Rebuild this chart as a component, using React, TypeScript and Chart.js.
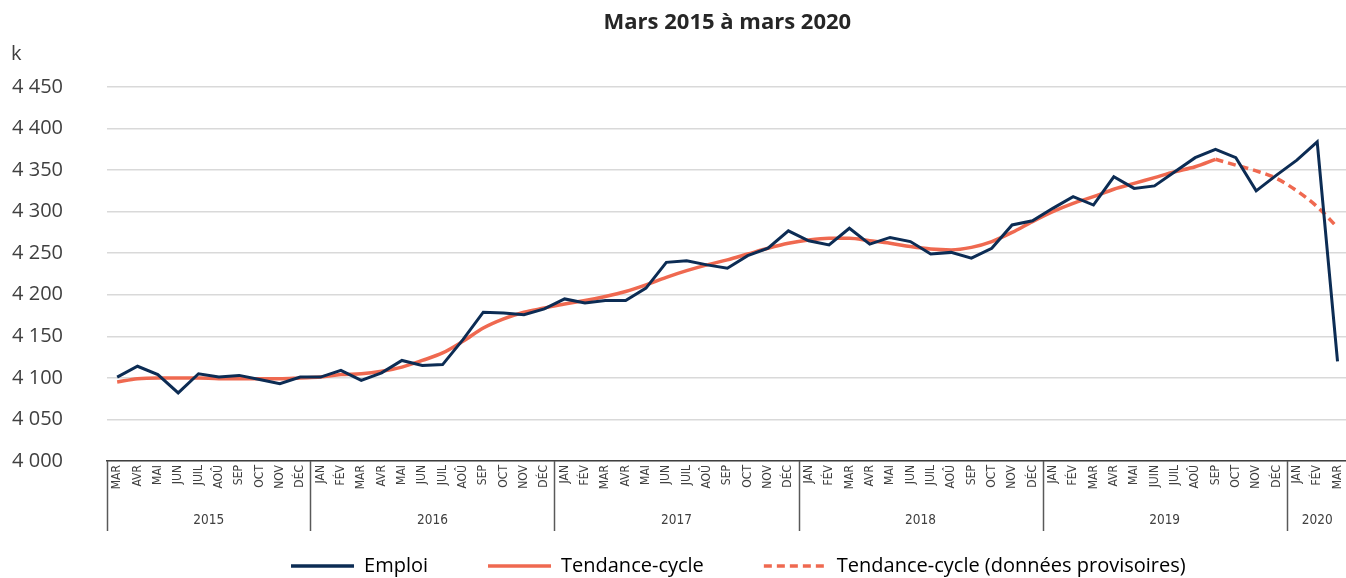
import React, { useEffect, useRef } from "react";
import { Chart, registerables } from "chart.js";

Chart.register(...registerables);

const TITLE = "Mars 2015 à mars 2020";
const UNIT = "k";

const MONTHS = [
  "MAR", "AVR", "MAI", "JUN", "JUIL", "AOÛ", "SEP", "OCT", "NOV", "DÉC",
  "JAN", "FÉV", "MAR", "AVR", "MAI", "JUN", "JUIL", "AOÛ", "SEP", "OCT", "NOV", "DÉC",
  "JAN", "FÉV", "MAR", "AVR", "MAI", "JUN", "JUIL", "AOÛ", "SEP", "OCT", "NOV", "DÉC",
  "JAN", "FÉV", "MAR", "AVR", "MAI", "JUN", "JUIL", "AOÛ", "SEP", "OCT", "NOV", "DÉC",
  "JAN", "FÉV", "MAR", "AVR", "MAI", "JUIN", "JUIL", "AOÛ", "SEP", "OCT", "NOV", "DÉC",
  "JAN", "FÉV", "MAR",
];

const YEARS = ["2015", "2016", "2017", "2018", "2019", "2020"];
const YEAR_START = [0, 10, 22, 34, 46, 58];

const EMPLOI = [
  4101, 4114, 4104, 4082, 4105, 4101, 4103, 4098, 4093, 4101,
  4101, 4109, 4097, 4106, 4121, 4115, 4116, 4146, 4179, 4178, 4176, 4183,
  4195, 4190, 4193, 4193, 4208, 4239, 4241, 4236, 4232, 4247, 4256, 4277,
  4265, 4260, 4280, 4261, 4269, 4264, 4249, 4251, 4244, 4256, 4284, 4289,
  4304, 4318, 4308, 4342, 4328, 4331, 4348, 4365, 4375, 4365, 4325, 4344,
  4362, 4384, 4120,
];

const TENDANCE = [
  4095, 4099, 4100, 4100, 4100, 4099, 4099, 4099, 4099, 4100,
  4101, 4104, 4105, 4108, 4113, 4121, 4130, 4144, 4160, 4171, 4179, 4184,
  4189, 4193, 4198, 4204, 4212, 4221, 4229, 4236, 4242, 4249, 4256, 4262,
  4266, 4268, 4268, 4265, 4262, 4258, 4255, 4254, 4257, 4264, 4275, 4288,
  4300, 4310, 4318, 4327, 4334, 4341, 4348, 4354, 4363,
  null, null, null, null, null, null,
];

const PROVISOIRE_START = 54;
const PROVISOIRE = [4363, 4356, 4349, 4340, 4325, 4306, 4281];

const Y_MIN = 4000;
const Y_MAX = 4450;
const Y_STEP = 50;

const NAVY = "#0c2c54";
const CORAL = "#ef6950";
const TEXT = "#404040";
const NARROW = "'DejaVu Sans Condensed', 'Liberation Sans Narrow', 'Arial Narrow', 'DejaVu Sans', sans-serif";

const fmt = (v: number) => {
  const s = String(Math.round(v));
  return s.replace(/\B(?=(\d{3})+(?!\d))/g, " ");
};

const provData = MONTHS.map((_, i) =>
  i >= PROVISOIRE_START ? PROVISOIRE[i - PROVISOIRE_START] : null
);

const extrasPlugin = {
  id: "extras",
  afterUpdate(chart: any) {
    const lg = chart.legend;
    if (lg) {
      lg.left += 11;
      lg.right += 11;
    }
  },
  afterDraw(chart: any) {
    const { ctx, chartArea } = chart;
    const xs = chart.scales.x;
    ctx.save();
    ctx.fillStyle = TEXT;
    ctx.font = "20px 'Open Sans'";
    ctx.textAlign = "left";
    ctx.textBaseline = "middle";
    ctx.fillText(UNIT, 11, 54);
    const bounds = YEAR_START.map((s) =>
      s === 0
        ? chartArea.left
        : (xs.getPixelForValue(s - 1) + xs.getPixelForValue(s)) / 2
    );
    bounds.push(chartArea.right);
    ctx.strokeStyle = "#595959";
    ctx.lineWidth = 1.5;
    for (let i = 0; i < bounds.length - 1; i++) {
      const x = Math.round(bounds[i]) + 0.5;
      ctx.beginPath();
      ctx.moveTo(x, chartArea.bottom);
      ctx.lineTo(x, chartArea.bottom + 70);
      ctx.stroke();
    }
    ctx.font = "13.5px " + NARROW;
    ctx.fillStyle = TEXT;
    ctx.textAlign = "center";
    YEARS.forEach((y, i) => {
      ctx.fillText(y, (bounds[i] + bounds[i + 1]) / 2, chartArea.bottom + 59);
    });
    ctx.restore();
  },
};

export default function App() {
  const ref = useRef<HTMLCanvasElement>(null);

  useEffect(() => {
    if (!ref.current) return;
    const chart = new Chart(ref.current, {
      type: "line",
      data: {
        labels: MONTHS,
        datasets: [
          {
            label: "Emploi",
            data: EMPLOI,
            borderColor: NAVY,
            backgroundColor: NAVY,
            borderWidth: 3,
            pointRadius: 0,
            tension: 0,
          },
          {
            label: "Tendance-cycle",
            data: TENDANCE,
            borderColor: CORAL,
            backgroundColor: CORAL,
            borderWidth: 3.5,
            pointRadius: 0,
            cubicInterpolationMode: "monotone",
          },
          {
            label: "Tendance-cycle (données provisoires)",
            data: provData,
            borderColor: CORAL,
            backgroundColor: CORAL,
            borderWidth: 3.5,
            borderDash: [8, 5],
            pointRadius: 0,
            cubicInterpolationMode: "monotone",
          },
        ],
      },
      options: {
        responsive: false,
        animation: false,
        layout: { padding: { left: 0, right: 3, top: 0, bottom: 4 } },
        plugins: {
          title: {
            display: true,
            text: TITLE,
            fullSize: false,
            color: "#262626",
            font: { family: "'Open Sans'", size: 22, weight: "bold" },
            padding: { top: 10, bottom: 50.6 },
          },
          legend: {
            position: "bottom",
            fullSize: false,
            labels: {
              usePointStyle: true,
              pointStyleWidth: 63,
              padding: 60,
              color: TEXT,
              font: { family: "'Open Sans'", size: 20 },
              generateLabels: (c: any) =>
                c.data.datasets.map((ds: any, i: number) => ({
                  text: ds.label,
                  fillStyle: ds.borderColor,
                  strokeStyle: ds.borderColor,
                  lineWidth: 3.5,
                  lineDash: ds.borderDash || [],
                  pointStyle: "line",
                  hidden: false,
                  datasetIndex: i,
                })),
            },
          },
          tooltip: { enabled: false },
        },
        scales: {
          x: {
            type: "category",
            offset: true,
            grid: { display: false, drawTicks: false },
            border: { display: true, color: "#404040", width: 1.5 },
            ticks: {
              autoSkip: false,
              minRotation: 90,
              maxRotation: 90,
              padding: 4,
              color: TEXT,
              font: { family: NARROW, size: 12 },
            },
            afterFit: (s: any) => {
              s.height = 35;
            },
          },
          y: {
            min: Y_MIN,
            max: Y_MAX,
            grid: { color: "#d9d9d9", lineWidth: 1.5, drawTicks: false },
            border: { display: false },
            ticks: {
              stepSize: Y_STEP,
              padding: 44,
              color: TEXT,
              font: { family: "'Open Sans'", size: 20 },
              callback: (v: any) => fmt(Number(v)),
            },
            afterFit: (s: any) => {
              s.width = 107;
            },
          },
        },
      },
      plugins: [extrasPlugin],
    } as any);
    return () => chart.destroy();
  }, []);

  return (
    <div
      style={{
        position: "fixed",
        left: 0,
        top: 0,
        width: 1346,
        height: 578,
        overflow: "hidden",
        background: "#fff",
      }}
    >
      <canvas ref={ref} width={1356} height={590} style={{ width: 1356, height: 590, display: "block" }} />
    </div>
  );
}
